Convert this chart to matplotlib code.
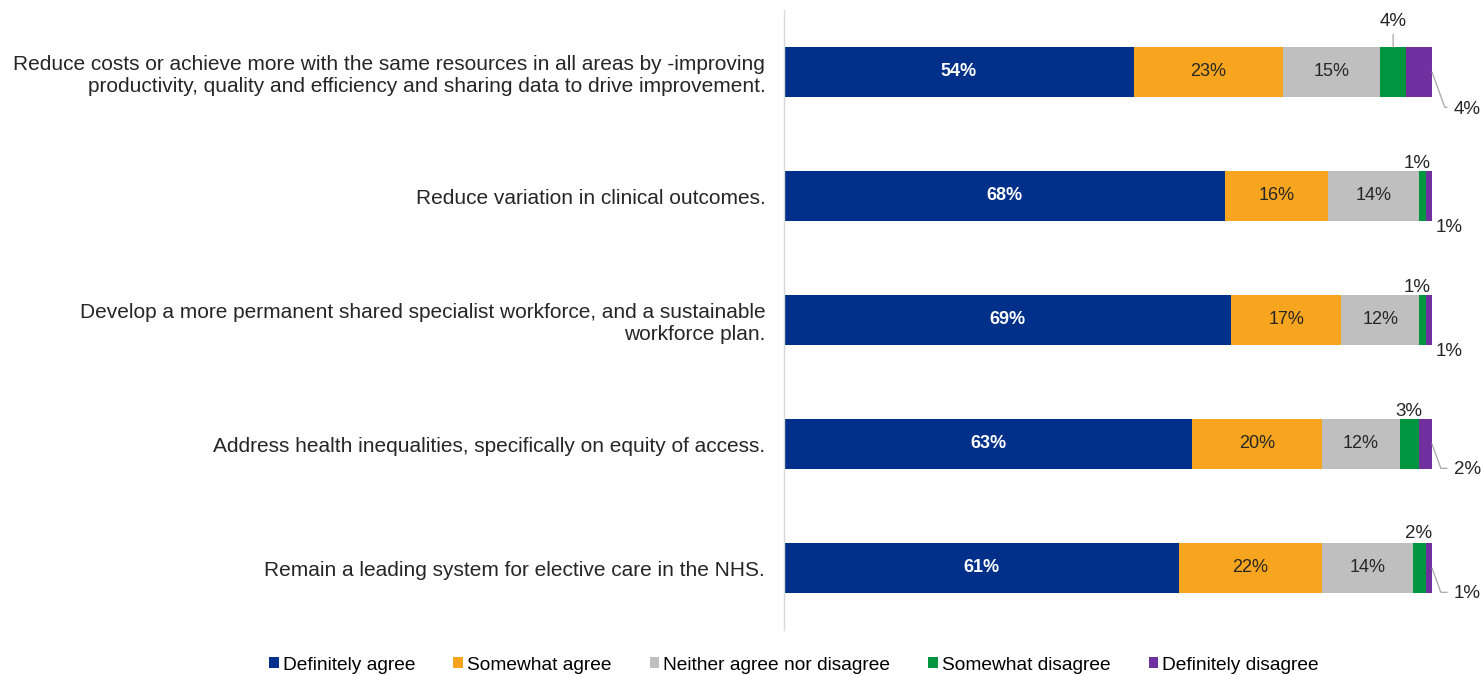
import numpy as np
import matplotlib.pyplot as plt

plt.rcParams['font.family'] = ['Liberation Sans', 'DejaVu Sans']

# Survey statements and response shares (%)
statements = [
    "Reduce costs or achieve more with the same resources in all areas by -improving\nproductivity, quality and efficiency and sharing data to drive improvement.",
    "Reduce variation in clinical outcomes.",
    "Develop a more permanent shared specialist workforce, and a sustainable\nworkforce plan.",
    "Address health inequalities, specifically on equity of access.",
    "Remain a leading system for elective care in the NHS.",
]
responses = ["Definitely agree", "Somewhat agree", "Neither agree nor disagree",
             "Somewhat disagree", "Definitely disagree"]
definitely_agree = [54, 68, 69, 63, 61]
somewhat_agree = [23, 16, 17, 20, 22]
neither = [15, 14, 12, 12, 14]
somewhat_disagree = [4, 1, 1, 3, 2]
definitely_disagree = [4, 1, 1, 2, 1]

colors = ["#00308A", "#F7A51E", "#BFBFBF", "#00953F", "#7030A0"]

series = [definitely_agree, somewhat_agree, neither, somewhat_disagree, definitely_disagree]

fig = plt.figure(figsize=(14.82, 6.75), dpi=100)
ax = fig.add_axes([784 / 1482, 1 - 630 / 675, 648 / 1482, 620 / 675])

y = np.arange(len(statements))
left = np.zeros(len(statements))
for vals, col, name in zip(series, colors, responses):
    ax.barh(y, vals, left=left, height=0.4, color=col, label=name)
    left += np.array(vals)

# labels inside the three big segments
for i in range(len(statements)):
    x0 = 0
    for k in range(3):
        v = series[k][i]
        ax.text(x0 + v / 2, y[i], f"{v}%", ha='center', va='center',
                fontsize=13, color='white' if k == 0 else '#262626',
                fontweight='bold' if k == 0 else 'normal')
        x0 += v

line_kw = dict(color='#A6A6A6', lw=0.9)
small_fs = 13.5

# small segments: "somewhat disagree" above, "definitely disagree" below right
green_off = [(0, 17), (-5, 33), (-5, 33), (0, 32), (0, 35)]
green_line = [True, False, False, False, False]
purple_off = [(22, -37), (4, -32), (4, -31), (22, -26), (22, -26)]
purple_line = [True, False, False, True, True]
for i in range(len(statements)):
    start = definitely_agree[i] + somewhat_agree[i] + neither[i]
    g = somewhat_disagree[i]
    gx = start + g / 2
    if green_line[i]:
        ax.annotate(f"{g}%", xy=(gx, y[i] - 0.2), xytext=green_off[i],
                    textcoords='offset pixels', ha='center', va='bottom',
                    fontsize=small_fs, color='#262626', annotation_clip=False,
                    arrowprops=dict(arrowstyle='-', relpos=(0.5, 0), shrinkA=1, shrinkB=0,
                                    **line_kw))
    else:
        ax.annotate(f"{g}%", xy=(gx, y[i]), xytext=green_off[i],
                    textcoords='offset pixels', ha='center', va='center',
                    fontsize=small_fs, color='#262626', annotation_clip=False)
    p = definitely_disagree[i]
    px = start + g + p
    if purple_line[i]:
        ax.annotate(f"{p}%", xy=(px, y[i]), xytext=purple_off[i],
                    textcoords='offset pixels', ha='left', va='center',
                    fontsize=small_fs, color='#262626', annotation_clip=False,
                    arrowprops=dict(arrowstyle='-', relpos=(0, 0.6), shrinkA=3, shrinkB=0,
                                    connectionstyle='angle,angleA=0,angleB=110', **line_kw))
    else:
        ax.annotate(f"{p}%", xy=(px, y[i]), xytext=purple_off[i],
                    textcoords='offset pixels', ha='left', va='center',
                    fontsize=small_fs, color='#262626', annotation_clip=False)

ax.set_xlim(0, 100)
ax.set_ylim(len(statements) - 0.5, -0.5)
ax.set_yticks(y)
ax.set_yticklabels(statements, fontsize=15, color='#262626')
ax.tick_params(axis='y', length=0, pad=13.5)
ax.set_xticks([])
for s in ['top', 'right', 'bottom']:
    ax.spines[s].set_visible(False)
ax.spines['left'].set_color('#D9D9D9')
ax.spines['left'].set_linewidth(1)

fig.legend(loc='center', bbox_to_anchor=(794 / 1482, 1 - 665 / 675), ncol=5,
           frameon=False, fontsize=13.8, handlelength=0.5, handleheight=0.5,
           handletextpad=0.2, columnspacing=2.0)

fig.savefig('out.png', dpi=100)
